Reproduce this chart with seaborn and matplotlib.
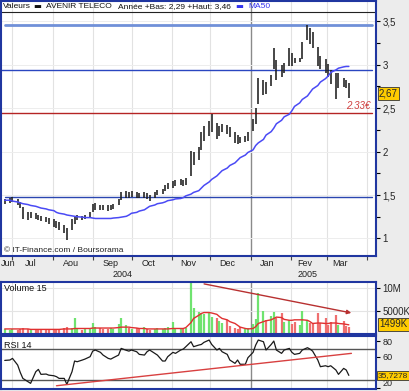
import numpy as np
import pandas as pd
import matplotlib
matplotlib.use("Agg")
import matplotlib.pyplot as plt
import matplotlib.transforms as mtransforms
import seaborn as sns

# ---------------- data ----------------
start_date = "2004-06-25"
high = [1.45, 1.46, 1.48, 1.45, 1.42, 1.36, 1.30, 1.31, 1.29, 1.27,
        1.26, 1.25, 1.24, 1.22, 1.20, 1.19, 1.16, 1.12, 1.22, 1.26,
        1.27, 1.26, 1.27, 1.30, 1.40, 1.41, 1.39, 1.38, 1.38, 1.39,
        1.40, 1.45, 1.53, 1.55, 1.54, 1.55, 1.53, 1.52, 1.54, 1.52,
        1.50, 1.54, 1.56, 1.57, 1.62, 1.64, 1.66, 1.67, 1.69, 1.67,
        1.70, 2.01, 2.00, 2.05, 2.22, 2.30, 2.35, 2.43, 2.33, 2.30,
        2.32, 2.31, 2.28, 2.22, 2.19, 2.17, 2.18, 2.22, 2.38, 2.50,
        2.85, 2.82, 2.80, 2.88, 3.19, 3.05, 3.00, 3.02, 3.19, 3.14,
        3.08, 3.08, 3.26, 3.46, 3.42, 3.38, 3.20, 3.10, 3.06, 3.01,
        2.94, 2.90, 2.90, 2.85, 2.82, 2.79]
low = [1.40, 1.41, 1.42, 1.38, 1.35, 1.22, 1.21, 1.24, 1.22, 1.21,
       1.20, 1.19, 1.17, 1.13, 1.12, 1.10, 1.06, 0.98, 1.10, 1.17,
       1.21, 1.21, 1.22, 1.23, 1.30, 1.33, 1.33, 1.33, 1.32, 1.33,
       1.34, 1.38, 1.44, 1.47, 1.47, 1.48, 1.46, 1.46, 1.47, 1.45,
       1.43, 1.47, 1.50, 1.51, 1.55, 1.57, 1.58, 1.60, 1.61, 1.60,
       1.62, 1.72, 1.84, 1.90, 2.02, 2.12, 2.18, 2.22, 2.14, 2.18,
       2.22, 2.20, 2.17, 2.10, 2.09, 2.10, 2.11, 2.12, 2.24, 2.32,
       2.55, 2.65, 2.66, 2.76, 2.95, 2.82, 2.86, 2.90, 2.99, 2.98,
       3.02, 3.03, 3.06, 3.28, 3.24, 3.19, 2.98, 2.95, 2.91, 2.86,
       2.78, 2.61, 2.73, 2.74, 2.73, 2.62]
ma50 = [1.44, 1.44, 1.43, 1.42, 1.41, 1.40, 1.39, 1.38, 1.37, 1.36,
        1.35, 1.34, 1.33, 1.32, 1.30, 1.29, 1.28, 1.27, 1.26, 1.255,
        1.25, 1.245, 1.24, 1.24, 1.235, 1.23, 1.23, 1.23, 1.23, 1.23,
        1.235, 1.24, 1.245, 1.255, 1.27, 1.29, 1.30, 1.315, 1.33, 1.35,
        1.37, 1.385, 1.40, 1.41, 1.42, 1.435, 1.445, 1.455, 1.46, 1.47,
        1.49, 1.51, 1.53, 1.55, 1.58, 1.61, 1.65, 1.68, 1.72, 1.75,
        1.78, 1.81, 1.84, 1.87, 1.90, 1.93, 1.96, 1.99, 2.02, 2.07,
        2.10, 2.14, 2.19, 2.23, 2.27, 2.32, 2.36, 2.40, 2.43, 2.47,
        2.52, 2.56, 2.60, 2.64, 2.68, 2.72, 2.76, 2.80, 2.84, 2.87,
        2.91, 2.94, 2.96, 2.975, 2.98, 2.98]
volume_m = [0.9, 0.7, 1.0, 0.8, 0.9, 1.1, 0.9, 0.8, 1.0, 0.7,
            0.9, 0.8, 0.7, 1.0, 0.8, 0.9, 1.2, 1.4, 1.1, 3.3,
            1.0, 0.8, 0.9, 1.3, 2.3, 1.5, 1.2, 1.0, 0.9, 1.1,
            1.0, 2.0, 3.3, 1.9, 1.2, 1.0, 1.1, 0.9, 1.4, 1.0,
            0.8, 1.0, 1.2, 0.9, 1.1, 1.5, 2.5, 1.2, 1.0, 1.3,
            1.1, 11.1, 5.6, 4.7, 4.5, 4.2, 4.4, 3.7, 3.5, 2.8,
            2.2, 3.0, 1.6, 1.3, 1.0, 1.5, 0.9, 1.2, 2.0, 3.2,
            8.9, 5.0, 3.0, 3.8, 4.7, 3.5, 4.6, 2.5, 3.0, 2.0,
            2.6, 1.8, 5.0, 3.0, 2.4, 2.0, 4.4, 2.3, 3.4, 1.8,
            2.6, 4.0, 1.9, 2.8, 1.6, 1.5]
vol_ma15 = [1.0, 1.0, 1.0, 1.0, 1.0, 1.0, 1.0, 0.9, 0.9, 0.9,
            0.9, 0.9, 0.9, 0.9, 0.9, 0.9, 1.0, 1.0, 1.0, 1.1,
            1.1, 1.1, 1.1, 1.1, 1.2, 1.2, 1.2, 1.2, 1.2, 1.2,
            1.2, 1.3, 1.4, 1.4, 1.4, 1.3, 1.2, 1.1, 1.1, 1.0,
            1.0, 1.0, 1.0, 1.0, 1.0, 1.0, 1.1, 1.1, 1.1, 1.1,
            1.3, 2.4, 3.3, 4.0, 4.4, 4.6, 4.6, 4.5, 4.2, 3.7,
            3.3, 3.0, 2.6, 2.2, 1.8, 1.4, 1.1, 1.0, 1.1, 1.5,
            2.2, 2.6, 2.8, 3.0, 3.3, 3.6, 3.5, 3.1, 2.9, 2.9,
            3.0, 3.0, 3.0, 2.9, 2.6, 2.2, 2.3, 2.3, 2.2, 2.2,
            2.3, 2.3, 2.2, 2.1, 2.0, 1.9]
rsi14 = [55.0, 55.5, 57.6, 49.0, 39.5, 31.8, 27.5, 25.4, 40.4, 43.4,
         37.0, 37.4, 36.0, 35.2, 34.0, 31.8, 31.8, 24.1, 40.4, 54.2,
         53.3, 55.5, 56.7, 59.8, 67.0, 68.4, 65.4, 61.9, 57.6, 56.7,
         58.5, 61.9, 70.5, 68.0, 67.0, 68.4, 66.2, 62.8, 61.9, 66.2,
         68.4, 64.1, 61.9, 54.2, 54.2, 59.8, 65.4, 64.1, 68.4, 69.6,
         72.7, 79.1, 72.7, 74.8, 75.6, 78.3, 81.3, 75.6, 68.4, 70.5,
         66.2, 62.8, 55.5, 51.2, 55.5, 50.0, 50.0, 58.5, 65.4, 74.8,
         81.3, 79.1, 68.4, 75.6, 80.0, 68.4, 64.1, 68.4, 70.5, 65.4,
         62.8, 64.1, 68.4, 71.4, 69.6, 67.0, 55.5, 46.9, 48.1, 46.9,
         48.1, 42.6, 37.0, 44.7, 42.6, 35.7]

support_levels = [3.46, 2.94, 2.44, 1.48]
vol_trend_dates = ["2004-11-24", "2005-03-22"]
vol_trend_vals = [11.0, 4.4]
rsi_trend_dates = ["2004-08-04", "2005-03-20"]
rsi_trend_vals = [22.3, 64.1]

month_labels = ["Jun", "Jul", "Aou", "Sep", "Oct", "Nov", "Dec", "Jan", "Fev", "Mar"]
month_label_dates = ["2004-06-28", "2004-07-15", "2004-08-15", "2004-09-15", "2004-10-14",
                     "2004-11-14", "2004-12-14", "2005-01-14", "2005-02-12", "2005-03-11"]
year_labels = ["2004", "2005"]
year_label_dates = ["2004-09-24", "2005-02-14"]
price_ticks = [1, 1.5, 2, 2.5, 3, 3.5]
price_tick_labels = ["1", "1,5", "2", "2,5", "3", "3,5"]
price_minor = [1.25, 1.75, 2.25, 2.75, 3.25]
vol_ticks = [5, 10]
vol_tick_labels = ["5000K", "10M"]
rsi_ticks = [20, 60, 80]
rsi_tick_labels = ["20", "60", "80"]
last_price, last_price_txt = 2.67, "2,67"
last_vol_txt = "1499K"
last_rsi, last_rsi_txt = 35.7278, "35,7278"

# ---------------- style ----------------
sns.set_style("white")
plt.rcParams["font.family"] = ["Liberation Sans", "DejaVu Sans"]

W, H = 410, 391
fig = plt.figure(figsize=(W / 100, H / 100), dpi=100, facecolor="#ececec")

def px_axes(x0, y0, x1, y1):
    return fig.add_axes([x0 / W, 1 - y1 / H, (x1 - x0) / W, (y1 - y0) / H])

dates = pd.date_range(start_date, periods=len(high), freq="2B")
df = pd.DataFrame({"date": dates, "high": high, "low": low, "ma50": ma50,
                   "vol": volume_m, "volma": vol_ma15, "rsi": rsi14})
mid = (df["high"] + df["low"]) / 2
up = np.r_[True, np.diff(mid.values) >= 0]

xlim = (pd.Timestamp("2004-06-22 12:00"), pd.Timestamp("2005-04-08"))
month_starts = pd.date_range("2004-07-01", "2005-04-01", freq="MS")
jan = pd.Timestamp("2005-01-01")
BORDER = "#2036a0"

def frame(ax):
    ax.set_facecolor("white")
    for s in ax.spines.values():
        s.set_color(BORDER)
        s.set_linewidth(1.5)
    ax.set_xlim(*xlim)
    for m in month_starts:
        if m == jan:
            ax.axvline(m, color="#8a8a8a", lw=1.0, zorder=0)
        else:
            ax.axvline(m, color="#e2e2e2", lw=0.8, zorder=0)
    ax.yaxis.tick_right()
    ax.tick_params(axis="y", which="both", direction="out", length=3, width=0.8,
                   color="black", labelsize=7, pad=1.5, right=True, left=False)
    ax.set_xlabel("")
    ax.set_ylabel("")

ybl = lambda a: mtransforms.blended_transform_factory(a.transAxes, a.transData)
box = dict(boxstyle="square,pad=0.15", fc="#ffcc00", ec="#333", lw=0.6)

# ---------------- price panel ----------------
ax = px_axes(1.5, 0.5, 376, 256)
frame(ax)
ax.set_ylim(0.798, 3.739)
for t in price_ticks:
    ax.axhline(t, color="#ededed", lw=0.7, zorder=0)
ax.set_yticks(price_ticks)
ax.set_yticklabels(price_tick_labels)
ax.set_yticks(price_minor, minor=True)
ax.set_xticks(month_starts)
ax.set_xticklabels([])
ax.tick_params(axis="x", direction="out", length=3, width=0.8, color="#444", bottom=True)

ax.axhline(3.604, color="#222222", lw=0.8)
ax.axhline(support_levels[0], xmin=0.01, xmax=0.988, color="#7090d8", lw=2.0, zorder=2)
ax.axhline(support_levels[1], xmin=0.0, xmax=0.988, color="#2a46c0", lw=1.0, zorder=2)
ax.axhline(support_levels[2], xmin=0.0, xmax=0.988, color="#b52424", lw=1.0, zorder=2)
ax.axhline(support_levels[3], xmin=0.01, xmax=0.988, color="#2a46b0", lw=1.0, zorder=2)

ax.vlines(df["date"], df["low"], df["high"], color="#1e1e1e", lw=1.15, zorder=3)
sns.lineplot(data=df, x="date", y="ma50", ax=ax, color="#4a4af5", lw=1.1, zorder=4)
ax.set_xlabel("")
ax.set_ylabel("")

ax.text(0.985, 2.47, "2.33€", color="#d04040", fontsize=7, style="italic",
        ha="right", va="bottom", transform=ybl(ax))
ax.text(0.008, 0.022, "© IT-Finance.com / Boursorama", fontsize=6, color="#222",
        transform=ax.transAxes, ha="left", va="center")
ax.text(1.008, last_price, last_price_txt, fontsize=7, ha="left", va="center",
        transform=ybl(ax), bbox=box, zorder=10)

blend = mtransforms.blended_transform_factory(ax.transData, ax.transAxes)
for lab, d in zip(month_labels, month_label_dates):
    ax.text(pd.Timestamp(d), -0.028, lab, transform=blend, ha="center", va="center",
            fontsize=6.5, color="#222", clip_on=False)
for lab, d in zip(year_labels, year_label_dates):
    ax.text(pd.Timestamp(d), -0.071, lab, transform=blend, ha="center", va="center",
            fontsize=6.5, color="#222", clip_on=False)

# header
def ftext(x, y, s, **kw):
    fig.text(x / W, 1 - y / H, s, va="center", ha="left", fontsize=6.0, **kw)
ftext(3, 6.5, "Valeurs", color="#111")
ftext(33, 6.5, "▬", color="#111", family=["DejaVu Sans"])
ftext(46, 6.5, "AVENIR TELECO", color="#111")
ftext(118, 6.5, "Année +Bas: 2,29 +Haut: 3,46", color="#111")
ftext(235, 6.5, "▬", color="#3333ee", family=["DejaVu Sans"])
ftext(248, 6.5, "MA50", color="#3333ee")

# ---------------- volume panel ----------------
axv = px_axes(1.5, 282, 376, 333.5)
frame(axv)
axv.set_ylim(0, 11.3)
for t in vol_ticks:
    axv.axhline(t, color="#e4e4e4", lw=0.8, zorder=0)
cols = np.where(up, "#6fe36f", "#ef6f6f")
axv.vlines(df["date"], 0, df["vol"], colors=cols, lw=1.6, zorder=2)
sns.lineplot(data=df, x="date", y="volma", ax=axv, color="#e03030", lw=1.0, zorder=3)
axv.annotate("", xy=(pd.Timestamp(vol_trend_dates[1]), vol_trend_vals[1]),
             xytext=(pd.Timestamp(vol_trend_dates[0]), vol_trend_vals[0]),
             arrowprops=dict(arrowstyle="-|>", color="#b83030", lw=1.0, mutation_scale=6))
axv.set_yticks(vol_ticks)
axv.set_yticklabels(vol_tick_labels)
axv.set_xticks([])
axv.set_xlabel("")
axv.set_ylabel("")
axv.text(0.008, 0.87, "Volume 15", transform=axv.transAxes, fontsize=6.5, ha="left", va="center", color="#111")
axv.text(1.008, 2.0, last_vol_txt, fontsize=7, ha="left", va="center",
         transform=ybl(axv), bbox=box, zorder=10)

# ---------------- RSI panel ----------------
axr = px_axes(1.5, 336, 376, 389)
frame(axr)
axr.set_ylim(18.1, 86.5)
axr.axhline(70, color="#555555", lw=1.0, zorder=1)
axr.axhline(30, color="#555555", lw=1.0, zorder=1)
sns.lineplot(data=df, x="date", y="rsi", ax=axr, color="#1a1a1a", lw=0.9, zorder=3)
sns.lineplot(x=pd.to_datetime(rsi_trend_dates), y=rsi_trend_vals, ax=axr, color="#d84040", lw=1.0, zorder=4)
axr.set_yticks(rsi_ticks)
axr.set_yticklabels(rsi_tick_labels)
axr.tick_params(axis="y", labelsize=6.5)
axr.get_yticklabels()[0].set_va("bottom")
axr.set_xticks([])
axr.set_xlabel("")
axr.set_ylabel("")
axr.text(0.008, 0.83, "RSI 14", transform=axr.transAxes, fontsize=6.5, ha="left", va="center", color="#111")
axr.text(1.005, last_rsi, last_rsi_txt, fontsize=6.0, ha="left", va="center",
         transform=ybl(axr), bbox=box, zorder=10)

fig.savefig("out.png", dpi=100, facecolor=fig.get_facecolor())
